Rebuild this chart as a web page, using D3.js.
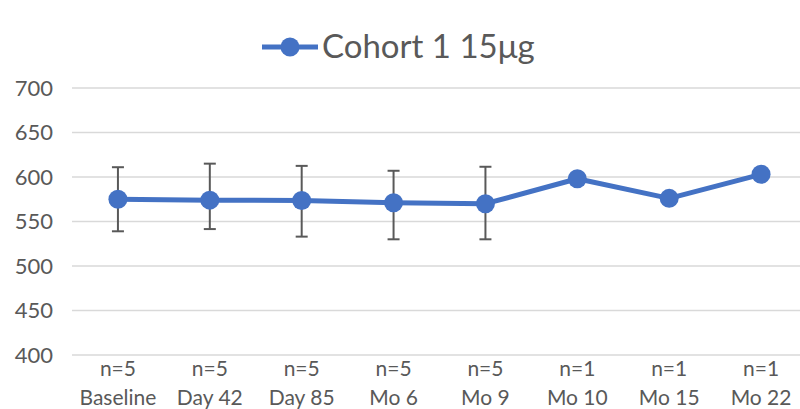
<!DOCTYPE html>
<html>
<head>
<meta charset="utf-8">
<script src="https://cdn.jsdelivr.net/npm/d3@7"></script>
<style>
  body { margin: 0; background: #fff; }
  text { font-family: Lato, "Open Sans", sans-serif; fill: #595959; }
</style>
</head>
<body>
<div id="container"></div>
<script>
/* DATA */
const categories = ["Baseline", "Day 42", "Day 85", "Mo 6", "Mo 9", "Mo 10", "Mo 15", "Mo 22"]
const nLabels = ["n=5", "n=5", "n=5", "n=5", "n=5", "n=1", "n=1", "n=1"]
const means = [575, 574, 573.5, 571, 570, 598, 576, 603]
const errHigh = [611, 615, 612.5, 607, 611.5, null, null, null]
const errLow = [539, 541.5, 533, 530, 530, null, null, null]
const yTicks = [400, 450, 500, 550, 600, 650, 700]
const seriesName = "Cohort 1 15μg"

/* CONSTANTS */
const width = 800,
  height = 409,
  margin = { top: 88, bottom: 54, left: 72, right: -7 }
const blue = "#4472C4"

const svg = d3.select("#container")
  .append("svg")
  .attr("width", width)
  .attr("height", height)

// SCALES
const xScale = d3.scaleBand()
  .domain(categories)
  .range([margin.left, width - margin.right])

const yScale = d3.scaleLinear()
  .domain([400, 700])
  .range([height - margin.bottom, margin.top])

const cx = d => xScale(d) + xScale.bandwidth() / 2

// GRIDLINES
svg.append("g")
  .selectAll("line")
  .data(yTicks)
  .join("line")
  .attr("x1", margin.left)
  .attr("x2", 800)
  .attr("y1", d => yScale(d))
  .attr("y2", d => yScale(d))
  .attr("stroke", "#d9d9d9")
  .attr("stroke-width", 1.3)

// Y AXIS LABELS
svg.append("g")
  .selectAll("text")
  .data(yTicks)
  .join("text")
  .attr("x", 53)
  .attr("y", d => yScale(d))
  .attr("dy", "0.36em")
  .attr("text-anchor", "end")
  .style("font-size", "22px")
  .text(d => d)

// X AXIS LABELS
const xLab = svg.append("g")
  .selectAll("text")
  .data(categories)
  .join("text")
  .attr("x", d => cx(d))
  .attr("text-anchor", "middle")
  .style("font-size", "21px")

xLab.append("tspan")
  .attr("x", d => cx(d))
  .attr("y", 376)
  .text((d, i) => nLabels[i])

xLab.append("tspan")
  .attr("x", d => cx(d))
  .attr("y", 405)
  .text(d => d)

// ERROR BARS
const errData = categories.map((c, i) => ({ c, hi: errHigh[i], lo: errLow[i] }))
  .filter(d => d.hi != null)

const eb = svg.append("g")
  .attr("stroke", "#595959")
  .attr("stroke-width", 2)

eb.selectAll(".v")
  .data(errData)
  .join("line")
  .attr("x1", d => cx(d.c))
  .attr("x2", d => cx(d.c))
  .attr("y1", d => yScale(d.hi))
  .attr("y2", d => yScale(d.lo))

eb.selectAll(".top")
  .data(errData)
  .join("line")
  .attr("x1", d => cx(d.c) - 6)
  .attr("x2", d => cx(d.c) + 6)
  .attr("y1", d => yScale(d.hi))
  .attr("y2", d => yScale(d.hi))

eb.selectAll(".bot")
  .data(errData)
  .join("line")
  .attr("x1", d => cx(d.c) - 6)
  .attr("x2", d => cx(d.c) + 6)
  .attr("y1", d => yScale(d.lo))
  .attr("y2", d => yScale(d.lo))

// LINE
const lineGen = d3.line()
  .x((d, i) => cx(categories[i]))
  .y(d => yScale(d))

svg.append("path")
  .attr("d", lineGen(means))
  .attr("fill", "none")
  .attr("stroke", blue)
  .attr("stroke-width", 5)
  .attr("stroke-linejoin", "round")

svg.append("g")
  .selectAll("circle")
  .data(means)
  .join("circle")
  .attr("cx", (d, i) => cx(categories[i]))
  .attr("cy", d => yScale(d))
  .attr("r", 9.5)
  .attr("fill", blue)

// LEGEND
const legend = svg.append("g")
legend.append("line")
  .attr("x1", 262).attr("x2", 318)
  .attr("y1", 47).attr("y2", 47)
  .attr("stroke", blue)
  .attr("stroke-width", 5)
legend.append("circle")
  .attr("cx", 290).attr("cy", 47)
  .attr("r", 9.5)
  .attr("fill", blue)
legend.append("text")
  .attr("x", 322)
  .attr("y", 58)
  .style("font-size", "33px")
  .text(seriesName)
</script>
</body>
</html>
